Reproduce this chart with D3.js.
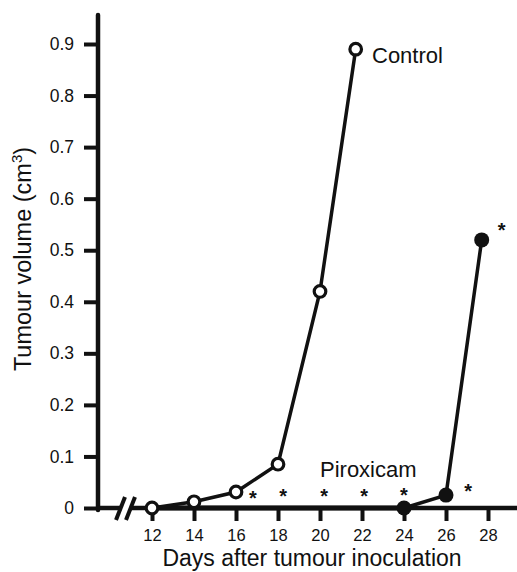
<!DOCTYPE html>
<html><head><meta charset="utf-8">
<script src="https://cdn.jsdelivr.net/npm/d3@7"></script>
<style>body{margin:0;background:#fff}svg{display:block}text{font-family:"Liberation Sans",Arial,sans-serif;fill:#111}</style>
</head><body>
<svg id="c" width="517" height="572"></svg>
<script>
const controlDays = [12, 14, 16, 18, 20, 21.7];
const controlValues = [0.0, 0.012, 0.031, 0.085, 0.42, 0.89];
const piroxicamDays = [24, 26, 27.7];
const piroxicamValues = [0.0, 0.025, 0.52];
const starDays = [16.8, 18.25, 20.2, 22.1, 24.0, 27.05, 28.65];
const starValues = [0.026, 0.03, 0.03, 0.03, 0.031, 0.038, 0.545];
const xTicks = [12, 14, 16, 18, 20, 22, 24, 26, 28];
const yTicks = [0, 0.1, 0.2, 0.3, 0.4, 0.5, 0.6, 0.7, 0.8, 0.9];
const yTickLabels = ["0", "0.1", "0.2", "0.3", "0.4", "0.5", "0.6", "0.7", "0.8", "0.9"];

const svg = d3.select("#c");
const x = d3.scaleLinear().domain([12, 28]).range([152, 488]);
const y = d3.scaleLinear().domain([0, 0.9]).range([508, 44]);
const axX = 98;
const ink = "#111";
const ff = '"Liberation Sans",Arial,sans-serif';

// Y axis
const yAxis = d3.axisLeft(y).tickValues(yTicks).tickFormat((d, i) => yTickLabels[i]).tickSize(14).tickPadding(10);
const gy = svg.append("g").attr("transform", `translate(${axX},0)`).call(yAxis);
gy.select(".domain").remove();
gy.selectAll(".tick line").attr("stroke", ink).attr("stroke-width", 4);
gy.selectAll(".tick text").attr("font-size", 17.5).attr("fill", ink).style("font-family", ff);
svg.append("line").attr("x1", axX).attr("x2", axX).attr("y1", y(0) + 2).attr("y2", 15)
  .attr("stroke", ink).attr("stroke-width", 4.5).attr("stroke-linecap", "round");

// X axis
const xAxis = d3.axisBottom(x).tickValues(xTicks).tickSize(13).tickPadding(8);
const gx = svg.append("g").attr("transform", `translate(0,${y(0)})`).call(xAxis);
gx.select(".domain").remove();
gx.selectAll(".tick line").attr("stroke", ink).attr("stroke-width", 4);
gx.selectAll(".tick text").attr("font-size", 16.5).attr("fill", ink).style("font-family", ff);
svg.append("line").attr("x1", axX - 2).attr("x2", 121).attr("y1", y(0)).attr("y2", y(0)).attr("stroke", ink).attr("stroke-width", 4.5);
svg.append("line").attr("x1", 131).attr("x2", 517).attr("y1", y(0)).attr("y2", y(0)).attr("stroke", ink).attr("stroke-width", 4.5);
[121, 131].forEach(cx => {
  svg.append("line").attr("x1", cx - 5).attr("x2", cx + 4).attr("y1", y(0) + 12).attr("y2", y(0) - 11)
    .attr("stroke", ink).attr("stroke-width", 4);
});

// Axis titles
svg.append("text").attr("x", 312).attr("y", 566).attr("text-anchor", "middle").attr("font-size", 23)
  .text("Days after tumour inoculation");
const yt = svg.append("text").attr("transform", "translate(31,259) rotate(-90)").attr("text-anchor", "middle").attr("font-size", 23.5);
yt.append("tspan").text("Tumour volume (cm");
yt.append("tspan").attr("font-size", 15).attr("dy", -9).text("3");
yt.append("tspan").attr("dy", 9).text(")");

// Lines
const line = d3.line().x(d => x(d[0])).y(d => y(d[1]));
const ctrl = controlDays.map((d, i) => [d, controlValues[i]]);
const pirox = piroxicamDays.map((d, i) => [d, piroxicamValues[i]]);
svg.append("path").datum([[12, 0], [24, 0]]).attr("d", line).attr("stroke", ink).attr("stroke-width", 5).attr("fill", "none");
svg.append("path").datum(ctrl).attr("d", line).attr("stroke", ink).attr("stroke-width", 3.5).attr("fill", "none");
svg.append("path").datum(pirox).attr("d", line).attr("stroke", ink).attr("stroke-width", 3.5).attr("fill", "none");

svg.selectAll(".ctrl").data(ctrl).enter().append("circle")
  .attr("cx", d => x(d[0])).attr("cy", d => y(d[1])).attr("r", 5.8)
  .attr("fill", "#fff").attr("stroke", ink).attr("stroke-width", 3.2);
svg.selectAll(".pir").data(pirox).enter().append("circle")
  .attr("cx", d => x(d[0])).attr("cy", d => y(d[1])).attr("r", 7.5).attr("fill", ink);

// Stars
svg.selectAll(".star").data(starDays.map((d, i) => [d, starValues[i]])).enter().append("text")
  .attr("x", d => x(d[0])).attr("y", d => y(d[1]) + 10).attr("text-anchor", "middle")
  .attr("font-size", 20).attr("font-weight", "bold").text("*");

// Labels
svg.append("text").attr("x", 372).attr("y", 63).attr("font-size", 22).text("Control");
svg.append("text").attr("x", 320).attr("y", 477).attr("font-size", 22).text("Piroxicam");
</script>
</body></html>
